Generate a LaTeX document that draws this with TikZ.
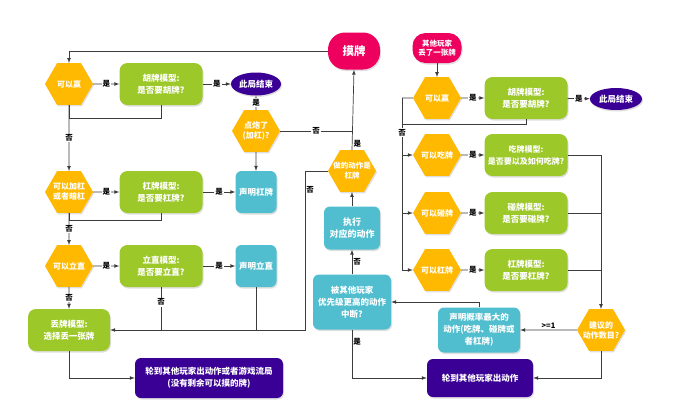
\documentclass[tikz,border=0pt]{standalone}
\usepackage{fontspec}
\setmainfont{Noto Sans CJK SC}
\usetikzlibrary{shapes.geometric,shadows}
\definecolor{hexorange}{RGB}{255,185,0}
\definecolor{modelgreen}{RGB}{157,200,42}
\definecolor{actteal}{RGB}{80,190,206}
\definecolor{startpink}{RGB}{238,0,95}
\definecolor{endpurple}{RGB}{58,0,150}
\definecolor{linegray}{RGB}{60,60,60}
\tikzset{
  base/.style={text=white, align=center, inner sep=1pt,
    drop shadow={shadow xshift=1pt, shadow yshift=-1.5pt, opacity=0.25}},
  hexbox/.style={base, regular polygon, regular polygon sides=6,
    minimum size=48pt, inner sep=-5pt, fill=hexorange,
    font=\bfseries\fontsize{8}{10}\selectfont},
  modelbox/.style={base, rectangle, rounded corners=8pt, fill=modelgreen,
    minimum width=83pt, minimum height=42pt, font=\bfseries\fontsize{8.5}{12}\selectfont},
  actbox/.style={base, rectangle, rounded corners=6pt, fill=actteal,
    font=\bfseries\fontsize{8.5}{12}\selectfont},
  endbox/.style={base, ellipse, fill=endpurple, minimum width=50pt,
    minimum height=23pt, inner sep=0pt, font=\bfseries\fontsize{8.5}{10}\selectfont},
  flowbox/.style={base, rectangle, rounded corners=6pt, fill=endpurple,
    font=\bfseries\fontsize{8.5}{12}\selectfont},
  startbox/.style={base, rectangle, rounded corners=14pt, fill=startpink},
  lbl/.style={fill=white, inner sep=1pt, text=black, font=\bfseries\fontsize{7.5}{8}\selectfont},
  sidelbl/.style={inner sep=1pt, text=black, font=\bfseries\fontsize{7.5}{8}\selectfont},
  flow/.style={draw=linegray, line width=0.7pt}
}
\begin{document}
\begin{tikzpicture}[x=1pt, y=-1pt, >=latex]
  \useasboundingbox (0,0) rectangle (673,408);
  \node[startbox, minimum width=52pt, minimum height=37pt, rounded corners=17pt,
    font=\bfseries\fontsize{11.5}{13}\selectfont] (mopai) at (354,51) {摸牌};
  \node[hexbox] (winL) at (69,84) {可以赢};
  \node[modelbox] (huL) at (161,84) {胡牌模型:\\是否要胡牌?};
  \node[endbox] (endL) at (256,84) {此局结束};
  \node[hexbox] (dianpao) at (256,131) {点炮了\\(加杠)?};
  \node[hexbox] (gangQ) at (69,192) {可以加杠\\或者暗杠};
  \node[modelbox] (gangM) at (161,192) {杠牌模型:\\是否要杠牌?};
  \node[actbox, minimum width=41pt, minimum height=42pt] (gangS) at (256,192) {声明杠牌};
  \node[hexbox] (liQ) at (69,266) {可以立直};
  \node[modelbox] (liM) at (161,266) {立直模型:\\是否要立直?};
  \node[actbox, minimum width=41pt, minimum height=42pt] (liS) at (256,266) {声明立直};
  \node[modelbox, minimum width=82pt] (diuM) at (69,330) {丢牌模型:\\选择丢一张牌};
  \node[flowbox, minimum width=148pt, minimum height=40pt] (nextL) at (209,378)
    {轮到其他玩家出动作或者游戏流局\\(没有剩余可以摸的牌)};
  \node[hexbox, font=\bfseries\fontsize{7.5}{10}\selectfont] (isgang) at (352,171) {做的动作是\\杠牌};
  \node[actbox, minimum width=56pt, minimum height=43pt,
    font=\bfseries\fontsize{9}{12.5}\selectfont] (exec) at (352,228) {执行\\对应的动作};
  \node[actbox, minimum width=78pt, minimum height=55pt] (intr) at (352,302)
    {被其他玩家\\优先级更高的动作\\中断?};
  \node[startbox, minimum width=49pt, minimum height=30pt, rounded corners=13pt,
    font=\bfseries\fontsize{7.5}{9.5}\selectfont] (other) at (437,48) {其他玩家\\丢了一张牌};
  \node[hexbox] (winR) at (437,98) {可以赢};
  \node[modelbox] (huR) at (526,98) {胡牌模型:\\是否要胡牌?};
  \node[endbox, minimum width=52pt, minimum height=22pt] (endR) at (616,99) {此局结束};
  \node[hexbox] (chiQ) at (437,155) {可以吃牌};
  \node[modelbox, font=\bfseries\fontsize{8}{12}\selectfont] (chiM) at (526,155) {吃牌模型:\\是否要以及如何吃牌?};
  \node[hexbox] (pengQ) at (437,213) {可以碰牌};
  \node[modelbox] (pengM) at (526,213) {碰牌模型:\\是否要碰牌?};
  \node[hexbox] (gangQR) at (437,270) {可以杠牌};
  \node[modelbox] (gangMR) at (526,270) {杠牌模型:\\是否要杠牌?};
  \node[hexbox] (count) at (601,330) {建议的\\动作数目?};
  \node[actbox, minimum width=82pt, minimum height=45pt] (declare) at (479,330)
    {声明概率最大的\\动作(吃牌、碰牌或\\者杠牌)};
  \node[flowbox, minimum width=106pt, minimum height=38pt] (nextR) at (480,378)
    {轮到其他玩家出动作};
  \coordinate (j1) at (305,330);
  \coordinate (j2) at (402,98);
  \begin{scope}[flow]
    \draw[->] (mopai.west) -| (winL.north);
    \draw[->] (winL) -- node[lbl]{是} (huL);
    \draw[->] (huL) -- node[lbl]{是} (endL);
    \draw (huL.south) -- ++(0,13) -| (winL.south);
    \draw[->] (winL) -- node[lbl]{否} (gangQ);
    \draw[->] (gangQ) -- node[lbl]{是} (gangM);
    \draw[->] (gangM) -- node[lbl]{是} (gangS);
    \draw (gangM.south) -- ++(0,7) -| (gangQ.south);
    \draw[->] (gangQ) -- node[lbl]{否} (liQ);
    \draw[->] (liQ) -- node[lbl]{是} (liM);
    \draw[->] (liM) -- node[lbl]{是} (liS);
    \draw[->] (liQ) -- node[lbl]{否} (diuM);
    \draw[->] (isgang.west) -| (j1) node[sidelbl, pos=0.56, right]{否} -- (diuM.east);
    \draw (liM.south) -- node[lbl, pos=0.35]{否} (liM.south |- j1);
    \draw (liS.south) -- (liS.south |- j1);
    \draw[->] (diuM.south) |- (nextL.west);
    \draw[->] (dianpao) -- node[lbl]{是} (endL);
    \draw[->] (dianpao) -- (gangS);
    \draw (dianpao.east) -- node[lbl]{否} (dianpao.east -| isgang.north);
    \draw[->] (isgang.north) -- node[sidelbl, pos=0.08, right]{是} (mopai.south);
    \draw[->] (exec) -- (isgang);
    \draw[->] (intr) -- node[sidelbl, right]{否} (exec);
    \draw[->] (intr.south) |- node[sidelbl, pos=0.13, right]{是} (nextR.west);
    \draw[->] (declare.north) |- (intr.east);
    \draw[->] (count) -- node[sidelbl, above]{>=1} (declare);
    \draw[->] (count.south) |- (nextR.east);
    \draw[->] (other) -- (winR);
    \draw[->] (winR) -- node[lbl]{是} (huR);
    \draw[->] (huR) -- node[lbl]{是} (endR);
    \draw (winR.west) -- (j2);
    \draw (huR.south) -- ++(0,5) -| (j2);
    \draw[->] (j2) |- (chiQ.west);
    \draw[->] (j2) |- (pengQ.west);
    \draw[->] (j2) |- node[lbl, pos=0.1]{否} (gangQR.west);
    \draw[->] (chiQ) -- node[lbl]{是} (chiM);
    \draw[->] (pengQ) -- node[lbl]{是} (pengM);
    \draw[->] (gangQR) -- node[lbl]{是} (gangMR);
    \draw[->] (chiM.east) -| (count.north);
    \draw (pengM.east) -- (pengM.east -| count.north);
    \draw (gangMR.east) -- (gangMR.east -| count.north);
  \end{scope}
\end{tikzpicture}
\end{document}
